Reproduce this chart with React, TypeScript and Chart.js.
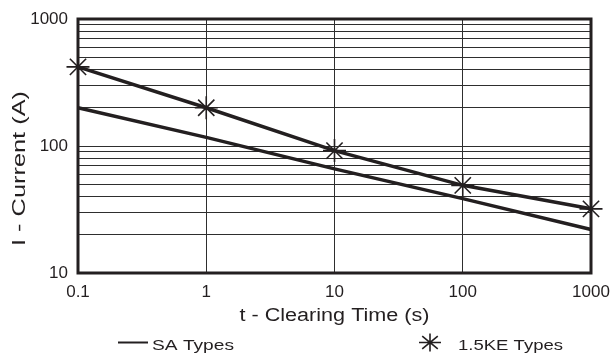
import { useEffect, useRef } from "react";
import { Chart, registerables } from "chart.js";

Chart.register(...registerables);

// ---- data ----
const clearingTimes = [0.1, 1, 10, 100, 1000];
const saCurrent = [200, 117, 66, 38.5, 22];
const keCurrent = [420, 200, 92, 49, 32];
const xTickValues = [0.1, 1, 10, 100, 1000];
const yTickValues = [10, 20, 30, 40, 50, 60, 70, 80, 90, 100, 200, 300, 400, 500, 600, 700, 800, 900, 1000];
const yLabelValues = [10, 100, 1000];
const seriesLabels = ["SA Types", "1.5KE Types"];
const xTitle = "t - Clearing Time (s)";
const yTitle = "I - Current (A)";

const INK = "#231f20";
const FONT = "'Liberation Sans', Arial, sans-serif";

function drawStretched(
  ctx: CanvasRenderingContext2D,
  text: string,
  x: number,
  y: number,
  targetW: number,
  size: number,
  align: CanvasTextAlign,
  rotate: boolean
) {
  ctx.save();
  ctx.font = `${size}px ${FONT}`;
  ctx.fillStyle = INK;
  ctx.textBaseline = "alphabetic";
  ctx.textAlign = align;
  ctx.translate(x, y);
  if (rotate) ctx.rotate(-Math.PI / 2);
  const w = ctx.measureText(text).width;
  ctx.scale(targetW / w, 1);
  ctx.fillText(text, 0, 0);
  ctx.restore();
}

function drawStar(ctx: CanvasRenderingContext2D, x: number, y: number, rx: number, ry: number, lw: number) {
  ctx.save();
  ctx.strokeStyle = INK;
  ctx.lineWidth = lw;
  ctx.beginPath();
  for (let i = 0; i < 4; i++) {
    const a = (i * Math.PI) / 4;
    ctx.moveTo(x + Math.cos(a) * rx, y + Math.sin(a) * ry);
    ctx.lineTo(x - Math.cos(a) * rx, y - Math.sin(a) * ry);
  }
  ctx.stroke();
  ctx.restore();
}

const decorPlugin = {
  id: "decor",
  beforeDatasetsDraw(chart: any) {
    const { ctx, chartArea: a } = chart;
    ctx.save();
    ctx.strokeStyle = INK;
    ctx.lineWidth = 3;
    ctx.strokeRect(a.left, a.top, a.right - a.left, a.bottom - a.top);
    ctx.restore();
  },
  afterDraw(chart: any) {
    const { ctx, chartArea: a } = chart;
    // axis titles
    drawStretched(ctx, xTitle, (a.left + a.right) / 2, 321, 190, 18, "center", false);
    drawStretched(ctx, yTitle, 25, 168.5, 155, 18, "center", true);
    // legend
    const ds = chart.data.datasets;
    ctx.save();
    ctx.strokeStyle = INK;
    ctx.lineWidth = 2;
    ctx.beginPath();
    ctx.moveTo(118, 342.5);
    ctx.lineTo(148, 342.5);
    ctx.stroke();
    ctx.restore();
    drawStretched(ctx, ds[0].label, 152, 350, 82, 15.5, "left", false);
    drawStar(ctx, 430, 342.5, 11, 9, 1.6);
    drawStretched(ctx, ds[1].label, 458, 350, 105, 15.5, "left", false);
  },
};

export default function App() {
  const ref = useRef<HTMLCanvasElement>(null);

  useEffect(() => {
    if (!ref.current) return;
    const chart = new Chart(ref.current, {
      type: "line",
      data: {
        datasets: [
          {
            label: seriesLabels[0],
            data: clearingTimes.map((t, i) => ({ x: t, y: saCurrent[i] })),
            borderColor: INK,
            borderWidth: 3.5,
            pointRadius: 0,
            tension: 0,
            clip: false as any,
          },
          {
            label: seriesLabels[1],
            data: clearingTimes.map((t, i) => ({ x: t, y: keCurrent[i] })),
            borderColor: INK,
            backgroundColor: INK,
            borderWidth: 3.5,
            pointStyle: "star",
            pointRadius: 11.5,
            pointBorderWidth: 1.6,
            pointBorderColor: INK,
            tension: 0,
            clip: false as any,
          },
        ],
      },
      options: {
        animation: false,
        responsive: false,
        devicePixelRatio: 1,
        layout: { padding: { top: 19, right: 22, left: 0, bottom: 0 } },
        plugins: {
          legend: { display: false },
          tooltip: { enabled: false },
        },
        scales: {
          x: {
            type: "logarithmic",
            min: 0.1,
            max: 1000,
            afterBuildTicks: (s: any) => {
              s.ticks = xTickValues.map((v) => ({ value: v }));
            },
            afterFit: (s: any) => {
              s.height = 81;
              s.paddingLeft = 0;
              s.paddingRight = 0;
            },
            grid: { color: "#2e2e2e", lineWidth: 1, drawTicks: false },
            border: { display: false },
            ticks: {
              autoSkip: false,
              maxRotation: 0,
              padding: 9,
              color: INK,
              font: { family: FONT, size: 17 },
              callback: (v: any) => String(v),
            },
          },
          y: {
            type: "logarithmic",
            min: 10,
            max: 1000,
            afterBuildTicks: (s: any) => {
              s.ticks = yTickValues.map((v) => ({ value: v }));
            },
            afterFit: (s: any) => {
              s.width = 78;
              s.paddingTop = 0;
              s.paddingBottom = 0;
            },
            grid: { color: "#2e2e2e", lineWidth: 1, drawTicks: false },
            border: { display: false },
            ticks: {
              autoSkip: false,
              padding: 10,
              color: INK,
              font: { family: FONT, size: 17 },
              callback: (v: any) => (yLabelValues.includes(Number(v)) ? String(v) : ""),
            },
          },
        },
      },
      plugins: [decorPlugin],
    });
    return () => chart.destroy();
  }, []);

  return (
    <div style={{ position: "fixed", left: 0, top: 0, width: 613, height: 354, background: "#fff" }}>
      <canvas ref={ref} width={613} height={354} style={{ display: "block" }} />
    </div>
  );
}
